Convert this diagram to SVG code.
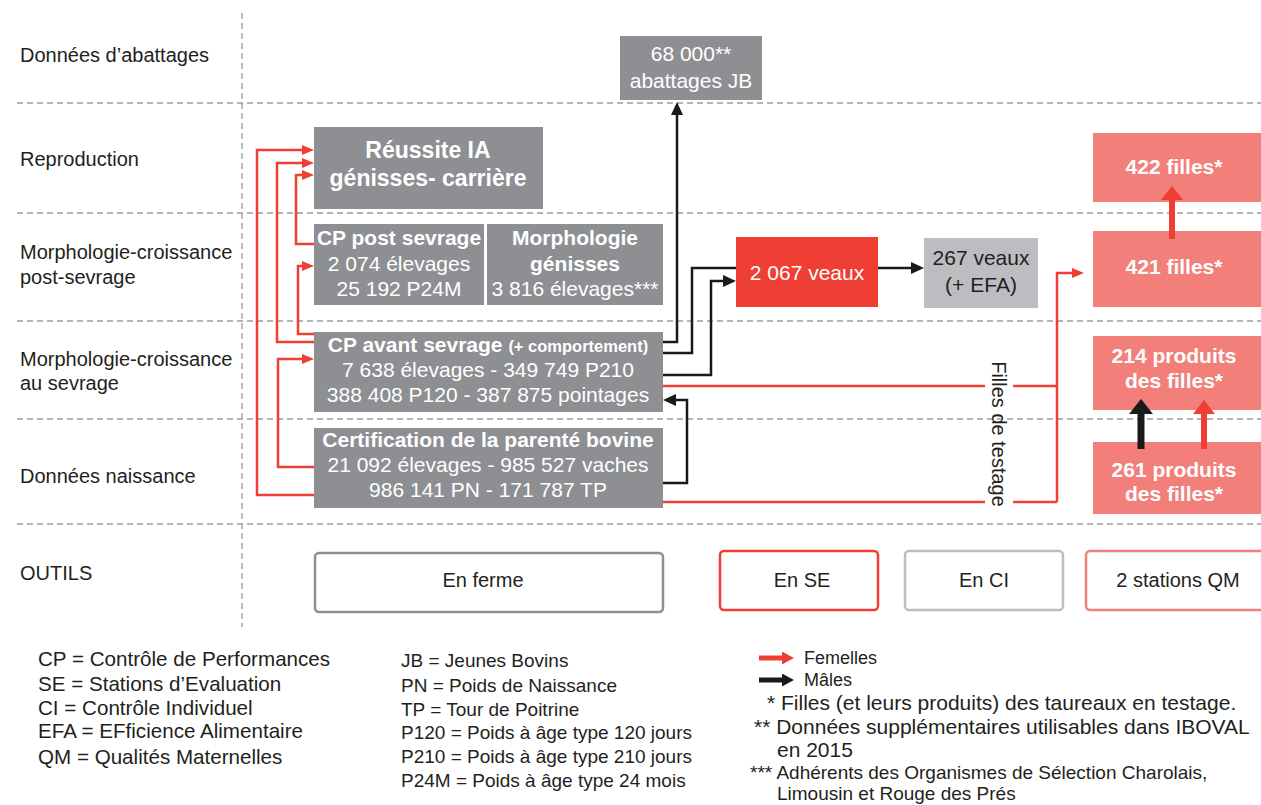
<svg xmlns="http://www.w3.org/2000/svg" width="1261" height="805" viewBox="0 0 1261 805">
<style>
text{font-family:"Liberation Sans",Arial,sans-serif;}
.lbl{font-size:20px;fill:#231f20;}
.grid{stroke:#9a9a9a;stroke-width:1.3;stroke-dasharray:6 4;fill:none;}
.gbox{fill:#8e8f93;}
.wt{fill:#fff;font-size:21px;text-anchor:middle;}
.wb{fill:#fff;font-size:21px;font-weight:bold;text-anchor:middle;}
.red{stroke:#ef3e33;stroke-width:2.5;fill:none;}
.blk{stroke:#1a1a1a;stroke-width:2.5;fill:none;}
.tool{fill:#fff;stroke-width:2.5;}
.tt{font-size:20px;fill:#231f20;text-anchor:middle;}
.leg{font-size:20.6px;fill:#231f20;}
.leg2{font-size:19px;fill:#231f20;}
</style>
<defs>
<marker id="ar" markerUnits="userSpaceOnUse" markerWidth="12" markerHeight="10" refX="0" refY="5" orient="auto"><path d="M0,0 L12,5 L0,10 z" fill="#ef3e33"/></marker>
<marker id="ab" markerUnits="userSpaceOnUse" markerWidth="13" markerHeight="12" refX="0" refY="6" orient="auto"><path d="M0,0 L13,6 L0,12 z" fill="#1a1a1a"/></marker>
<marker id="tr" markerUnits="userSpaceOnUse" markerWidth="14" markerHeight="22" refX="0" refY="11" orient="auto"><path d="M0,0 L14,11 L0,22 z" fill="#ef3e33"/></marker>
<marker id="tb" markerUnits="userSpaceOnUse" markerWidth="15" markerHeight="24" refX="0" refY="12" orient="auto"><path d="M0,0 L15,12 L0,24 z" fill="#1a1a1a"/></marker>
<marker id="lr" markerUnits="userSpaceOnUse" markerWidth="12" markerHeight="13" refX="0" refY="6.5" orient="auto"><path d="M0,0 L12,6.5 L0,13 z" fill="#ef3e33"/></marker>
<marker id="lb" markerUnits="userSpaceOnUse" markerWidth="12" markerHeight="13" refX="0" refY="6.5" orient="auto"><path d="M0,0 L12,6.5 L0,13 z" fill="#1a1a1a"/></marker>
</defs>
<rect width="1261" height="805" fill="#fff"/>

<g id="grid">
<line class="grid" x1="242" y1="13" x2="242" y2="627"/>
<line class="grid" x1="17" y1="103" x2="1261" y2="103"/>
<line class="grid" x1="17" y1="213" x2="1261" y2="213"/>
<line class="grid" x1="17" y1="321" x2="1261" y2="321"/>
<line class="grid" x1="17" y1="419" x2="1261" y2="419"/>
<line class="grid" x1="17" y1="524" x2="1261" y2="524"/>
</g>

<g id="row-labels">
<text class="lbl" x="20" y="62">Données d’abattages</text>
<text class="lbl" x="20" y="166">Reproduction</text>
<text class="lbl" x="20" y="259">Morphologie-croissance</text>
<text class="lbl" x="20" y="284">post-sevrage</text>
<text class="lbl" x="20" y="366">Morphologie-croissance</text>
<text class="lbl" x="20" y="390">au sevrage</text>
<text class="lbl" x="20" y="483">Données naissance</text>
<text class="lbl" x="20" y="580">OUTILS</text>
</g>

<g id="connectors">
<path class="red" d="M314,495 H257 V150 H302" marker-end="url(#ar)"/>
<path class="red" d="M314,342 H277 V163 H302" marker-end="url(#ar)"/>
<path class="red" d="M314,244 H296 V175 H302" marker-end="url(#ar)"/>
<path class="red" d="M314,334 H298 V266 H302" marker-end="url(#ar)"/>
<path class="red" d="M314,467 H278 V359 H302" marker-end="url(#ar)"/>
<path class="blk" d="M663,342 H677 V115" marker-end="url(#ab)"/>
<path class="blk" d="M663,353 H692 V268 H736"/>
<path class="blk" d="M663,375 H711 V281 H723" marker-end="url(#ab)"/>
<path class="blk" d="M663,483 H687 V400 H676" marker-end="url(#ab)"/>
<path class="blk" d="M878,268 H911" marker-end="url(#ab)"/>
<path class="red" d="M663,386 H985 M1013,386 H1057"/>
<path class="red" d="M663,502 H985 M1013,502 H1057"/>
<path class="red" d="M1057,502 V273 H1072" marker-end="url(#ar)"/>
<text x="999" y="434" class="lbl" text-anchor="middle" dominant-baseline="central" transform="rotate(90 999 434)">Filles de testage</text>
</g>

<g id="n-abattages">
<rect class="gbox" x="620" y="36" width="142" height="64"/>
<text class="wt" x="691" y="61">68 000**</text>
<text class="wt" x="691" y="88">abattages JB</text>
</g>
<g id="n-reussite">
<rect class="gbox" x="314" y="127" width="229" height="82"/>
<text class="wb" x="428" y="158" style="font-size:23px">Réussite IA</text>
<text class="wb" x="428" y="186" style="font-size:23px">génisses- carrière</text>
</g>
<g id="n-cp-post">
<rect class="gbox" x="314" y="224" width="170" height="81"/>
<text class="wb" x="399" y="245">CP post sevrage</text>
<text class="wt" x="399" y="271">2 074 élevages</text>
<text class="wt" x="399" y="296">25 192 P24M</text>
</g>
<g id="n-morpho">
<rect class="gbox" x="487" y="224" width="176" height="81"/>
<text class="wb" x="575" y="245">Morphologie</text>
<text class="wb" x="575" y="271">génisses</text>
<text class="wt" x="575" y="296">3 816 élevages***</text>
</g>
<g id="n-cp-avant">
<rect class="gbox" x="314" y="332" width="349" height="80"/>
<text class="wb" x="488" y="352">CP avant sevrage <tspan style="font-size:16.5px">(+ comportement)</tspan></text>
<text class="wt" x="488" y="377">7 638 élevages - 349 749 P210</text>
<text class="wt" x="488" y="402">388 408 P120 - 387 875 pointages</text>
</g>
<g id="n-certif">
<rect class="gbox" x="314" y="428" width="349" height="80"/>
<text class="wb" x="488" y="447">Certification de la parenté bovine</text>
<text class="wt" x="488" y="472">21 092 élevages - 985 527 vaches</text>
<text class="wt" x="488" y="497">986 141 PN - 171 787 TP</text>
</g>
<g id="n-2067">
<rect x="736" y="237" width="142" height="70" fill="#ef3e33"/>
<text class="wt" x="807" y="280">2 067 veaux</text>
</g>
<g id="n-267">
<rect x="924" y="238" width="114" height="70" fill="#bcbdc1"/>
<text class="wt" x="981" y="265" style="fill:#231f20">267 veaux</text>
<text class="wt" x="981" y="292" style="fill:#231f20">(+ EFA)</text>
</g>
<g id="n-422">
<rect x="1093" y="133" width="168" height="69" fill="#f27f7a"/>
<text class="wb" x="1174" y="174">422 filles*</text>
</g>
<g id="n-421">
<rect x="1093" y="231" width="168" height="76" fill="#f27f7a"/>
<text class="wb" x="1174" y="274">421 filles*</text>
</g>
<g id="n-214">
<rect x="1093" y="336" width="168" height="74" fill="#f27f7a"/>
<text class="wb" x="1174" y="363">214 produits</text>
<text class="wb" x="1174" y="388">des filles*</text>
</g>
<g id="n-261">
<rect x="1093" y="442" width="168" height="72" fill="#f27f7a"/>
<text class="wb" x="1174" y="477">261 produits</text>
<text class="wb" x="1174" y="501">des filles*</text>
</g>

<g id="thick-arrows">
<path d="M1172,239 V200" stroke="#ef3e33" stroke-width="6" fill="none" marker-end="url(#tr)"/>
<path d="M1141,449 V414" stroke="#1a1a1a" stroke-width="7" fill="none" marker-end="url(#tb)"/>
<path d="M1204,449 V414" stroke="#ef3e33" stroke-width="6" fill="none" marker-end="url(#tr)"/>
</g>

<g id="outils">
<rect class="tool" x="315" y="553" width="348" height="59" rx="4" stroke="#8e8f93"/>
<text class="tt" x="483" y="587">En ferme</text>
<rect class="tool" x="720" y="551" width="158" height="59" rx="4" stroke="#ef3e33"/>
<text class="tt" x="802" y="587">En SE</text>
<rect class="tool" x="905" y="551" width="158" height="59" rx="4" stroke="#bcbdc1"/>
<text class="tt" x="984" y="587">En CI</text>
<rect class="tool" x="1086" y="551" width="190" height="59" rx="4" stroke="#f27f7a"/>
<text class="tt" x="1178" y="587">2 stations QM</text>
</g>

<g id="legend">
<text class="leg" x="38" y="666">CP = Contrôle de Performances</text>
<text class="leg" x="38" y="691">SE = Stations d’Evaluation</text>
<text class="leg" x="38" y="715">CI  = Contrôle Individuel</text>
<text class="leg" x="38" y="738">EFA = EFficience Alimentaire</text>
<text class="leg" x="38" y="764">QM = Qualités Maternelles</text>
<text class="leg2" x="401" y="667">JB = Jeunes Bovins</text>
<text class="leg2" x="401" y="692">PN = Poids de Naissance</text>
<text class="leg2" x="401" y="716">TP = Tour de Poitrine</text>
<text class="leg2" x="401" y="739">P120 = Poids à âge type 120 jours</text>
<text class="leg2" x="401" y="763">P210 = Poids à âge type 210 jours</text>
<text class="leg2" x="401" y="787">P24M = Poids à âge type 24 mois</text>
<path d="M759,658 H782" stroke="#ef3e33" stroke-width="5" marker-end="url(#lr)"/>
<text x="804" y="664" style="font-size:18px;fill:#231f20">Femelles</text>
<path d="M759,680 H782" stroke="#1a1a1a" stroke-width="5" marker-end="url(#lb)"/>
<text x="804" y="686" style="font-size:18px;fill:#231f20">Mâles</text>
<text class="leg" x="767" y="710" style="font-size:21px">* Filles (et leurs produits) des taureaux en testage.</text>
<text class="leg" x="754" y="734" style="font-size:21px">** Données supplémentaires utilisables dans IBOVAL</text>
<text class="leg" x="777" y="757" style="font-size:21px">en 2015</text>
<text class="leg2" x="750" y="779">*** Adhérents des Organismes de Sélection Charolais,</text>
<text class="leg2" x="777" y="800">Limousin et Rouge des Prés</text>
</g>
</svg>
